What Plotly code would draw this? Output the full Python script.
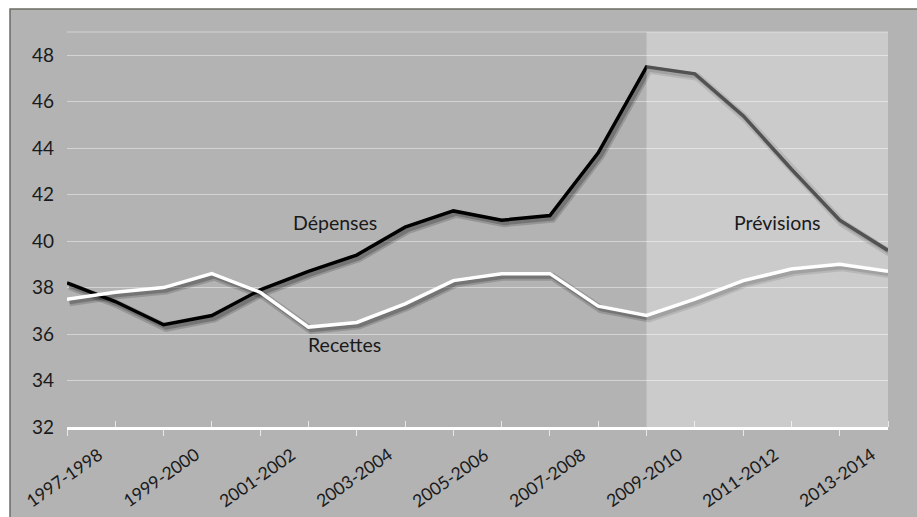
import plotly.graph_objects as go

years = ["1997-1998", "1998-1999", "1999-2000", "2000-2001", "2001-2002", "2002-2003",
         "2003-2004", "2004-2005", "2005-2006", "2006-2007", "2007-2008", "2008-2009",
         "2009-2010", "2010-2011", "2011-2012", "2012-2013", "2013-2014", "2014-2015"]
depenses = [38.2, 37.4, 36.4, 36.8, 37.9, 38.7, 39.4, 40.6, 41.3, 40.9, 41.1, 43.8,
            47.5, 47.2, 45.4, 43.1, 40.9, 39.6]
recettes = [37.5, 37.8, 38.0, 38.6, 37.8, 36.3, 36.5, 37.3, 38.3, 38.6, 38.6, 37.2,
            36.8, 37.5, 38.3, 38.8, 39.0, 38.7]
forecast_start = "2009-2010"
y_ticks = [32, 34, 36, 38, 40, 42, 44, 46, 48]
y_range = [32, 49]

idx = list(range(len(years)))
fs = years.index(forecast_start)
x_range = [0, idx[-1]]

W, H = 917, 517
ml, mr, mt, mb = 67, 29, 32, 90
pw, ph = W - ml - mr, H - mt - mb

def px_x(p):
    return (p - ml) / pw

def px_y(p):
    return (H - mb - p) / ph

# shadow offset in pixels (right, down)
sdx, sdy = 2.5, 3.0
ux = (x_range[1] - x_range[0]) / pw
uy = (y_range[1] - y_range[0]) / ph
x2_range = [x_range[0] - sdx * ux, x_range[1] - sdx * ux]
y2_range = [y_range[0] + sdy * uy, y_range[1] + sdy * uy]

fig = go.Figure()

for ys in (depenses, recettes):
    fig.add_trace(go.Scatter(x=idx, y=ys, mode="lines", hoverinfo="skip", xaxis="x2", yaxis="y2",
                             line=dict(color="rgba(0,0,0,0.16)", width=8), showlegend=False))
    fig.add_trace(go.Scatter(x=idx, y=ys, mode="lines", hoverinfo="skip", xaxis="x2", yaxis="y2",
                             line=dict(color="rgba(0,0,0,0.22)", width=4), showlegend=False))

fig.add_trace(go.Scatter(x=idx, y=depenses, mode="lines", name="Dépenses", xaxis="x3", yaxis="y3",
                         line=dict(color="#000000", width=3.5), showlegend=False))
fig.add_trace(go.Scatter(x=idx, y=recettes, mode="lines", name="Recettes", xaxis="x3", yaxis="y3",
                         line=dict(color="#ffffff", width=3.5), showlegend=False))

shapes = [
    dict(type="rect", xref="paper", yref="paper", layer="below",
         x0=px_x(10), x1=px_x(W + 5), y0=px_y(H + 5), y1=px_y(9),
         fillcolor="#b3b3b3", line=dict(color="#6e6e66", width=1.5)),
    dict(type="rect", xref="x", yref="paper", layer="above",
         x0=fs, x1=idx[-1], y0=0, y1=1,
         fillcolor="rgba(255,255,255,0.32)", line=dict(width=0)),
    dict(type="line", xref="paper", yref="paper", layer="below",
         x0=0, x1=1, y0=1, y1=1, line=dict(color="#d4d4d4", width=1.2)),
]

font_fam = "Lato, 'Open Sans', sans-serif"
txt = "#1a1a1a"
annotations = [
    dict(x=5.55, y=40.8, text="Dépenses", showarrow=False, font=dict(size=19.5, color=txt, family=font_fam)),
    dict(x=5.75, y=35.55, text="Recettes", showarrow=False, font=dict(size=19.5, color=txt, family=font_fam)),
    dict(x=14.72, y=40.78, text="Prévisions", showarrow=False, font=dict(size=19.5, color=txt, family=font_fam)),
]
for i in idx[::2]:
    annotations.append(dict(x=i, xref="x", y=px_y(477), yref="paper", text=years[i],
                            showarrow=False, textangle=-35, xshift=-3,
                            xanchor="center", yanchor="middle",
                            font=dict(size=17.5, color=txt, family=font_fam)))

hidden = dict(visible=False, showgrid=False, zeroline=False, fixedrange=True)

fig.update_layout(
    width=W, height=H,
    margin=dict(l=ml, r=mr, t=mt, b=mb, pad=0),
    paper_bgcolor="#ffffff",
    plot_bgcolor="rgba(0,0,0,0)",
    shapes=shapes,
    annotations=annotations,
    font=dict(family=font_fam, color=txt),
    xaxis=dict(
        range=x_range,
        tickmode="array",
        tickvals=idx[::2],
        ticktext=["" for _ in idx[::2]],
        ticks="outside", ticklen=6, tickcolor="#e8e8e8", tickwidth=1,
        minor=dict(tickmode="array", tickvals=idx[1::2], ticks="inside",
                   ticklen=6, tickcolor="#e8e8e8", tickwidth=1, showgrid=False),
        showgrid=False, zeroline=False,
        showline=True, linecolor="#ffffff", linewidth=2.5,
    ),
    yaxis=dict(
        range=y_range,
        tickmode="array",
        tickvals=y_ticks,
        ticktext=[str(v) for v in y_ticks],
        tickfont=dict(size=19, color=txt),
        ticks="", ticklabelstandoff=12,
        showgrid=True, gridcolor="#d4d4d4", gridwidth=1.2,
        zeroline=False, showline=False,
    ),
    xaxis2=dict(overlaying="x", range=x2_range, **hidden),
    yaxis2=dict(overlaying="y", range=y2_range, **hidden),
    xaxis3=dict(overlaying="x", range=x_range, **hidden),
    yaxis3=dict(overlaying="y", range=y_range, **hidden),
)

fig.write_html("out.html")
